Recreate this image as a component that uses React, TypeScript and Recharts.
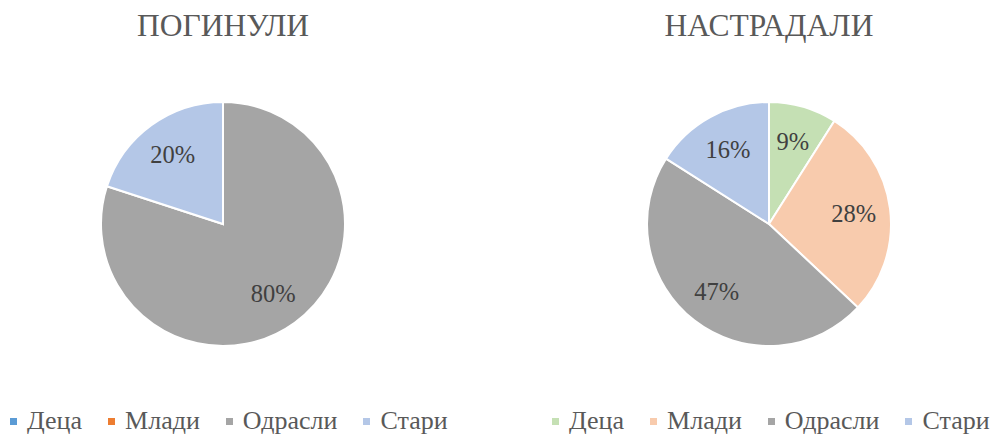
import React from "react";
import { PieChart, Pie, Cell, Legend } from "recharts";

// Categories and values (percent)
const categories = ["Деца", "Млади", "Одрасли", "Стари"];
const killedValues = [0, 0, 80, 20];
const injuredValues = [9, 28, 47, 16];

const killedColors = ["#5B9BD5", "#ED7D31", "#A5A5A5", "#B4C7E7"];
const injuredColors = ["#C5E0B4", "#F8CBAD", "#A5A5A5", "#B4C7E7"];

const FONT = "'Liberation Serif', serif";
const RADIAN = Math.PI / 180;

const renderLabel = (props: any) => {
  const { cx, cy, midAngle, outerRadius, value } = props;
  if (!value) return null;
  const r = outerRadius * 0.7;
  const x = cx + r * Math.cos(-midAngle * RADIAN);
  const y = cy + r * Math.sin(-midAngle * RADIAN);
  return (
    <text
      x={x}
      y={y}
      fill="#404040"
      textAnchor="middle"
      dominantBaseline="central"
      style={{ fontFamily: FONT, fontSize: 24.5 }}
    >
      {`${value}%`}
    </text>
  );
};

const LegendContent = ({ colors }: { colors: string[] }) => (
  <div
    style={{
      display: "flex",
      alignItems: "center",
      fontFamily: FONT,
      fontSize: 26,
      lineHeight: "30px",
      color: "#595959",
      whiteSpace: "nowrap",
    }}
  >
    {categories.map((c, i) => (
      <div key={c} style={{ display: "flex", alignItems: "center", marginRight: 26 }}>
        <span style={{ width: 7, height: 7, background: colors[i], marginRight: 10, display: "inline-block" }} />
        <span>{c}</span>
      </div>
    ))}
  </div>
);

const PiePanel = ({
  title,
  values,
  colors,
  left,
  legendLeft,
}: {
  title: string;
  values: number[];
  colors: string[];
  left: number;
  legendLeft: number;
}) => {
  const data = categories.map((name, i) => ({ name, value: values[i] }));
  return (
    <div style={{ position: "absolute", left, top: 0, width: 446, height: 435 }}>
      <div
        style={{
          position: "absolute",
          top: 6,
          left: 0,
          width: 446,
          textAlign: "center",
          fontFamily: FONT,
          fontSize: 31.5,
          color: "#595959",
          lineHeight: "40px",
        }}
      >
        {title}
      </div>
      <PieChart width={446} height={435} margin={{ top: 0, right: 0, bottom: 0, left: 0 }}>
        <Pie
          data={data}
          dataKey="value"
          nameKey="name"
          cx={223}
          cy={224}
          outerRadius={122}
          startAngle={90}
          endAngle={-270}
          stroke="#fff"
          strokeWidth={2}
          label={renderLabel}
          labelLine={false}
          isAnimationActive={false}
        >
          {data.map((d, i) => (
            <Cell key={d.name} fill={colors[i]} />
          ))}
        </Pie>
        <Legend
          content={() => <LegendContent colors={colors} />}
          wrapperStyle={{ position: "absolute", left: legendLeft, top: 406, width: "auto" }}
        />
      </PieChart>
    </div>
  );
};

const App = () => (
  <div style={{ position: "absolute", left: 0, top: 0, width: 1000, height: 435, background: "#fff", overflow: "hidden" }}>
    <PiePanel title="ПОГИНУЛИ" values={killedValues} colors={killedColors} left={0} legendLeft={10} />
    <PiePanel title="НАСТРАДАЛИ" values={injuredValues} colors={injuredColors} left={546} legendLeft={6} />
  </div>
);

export default App;
